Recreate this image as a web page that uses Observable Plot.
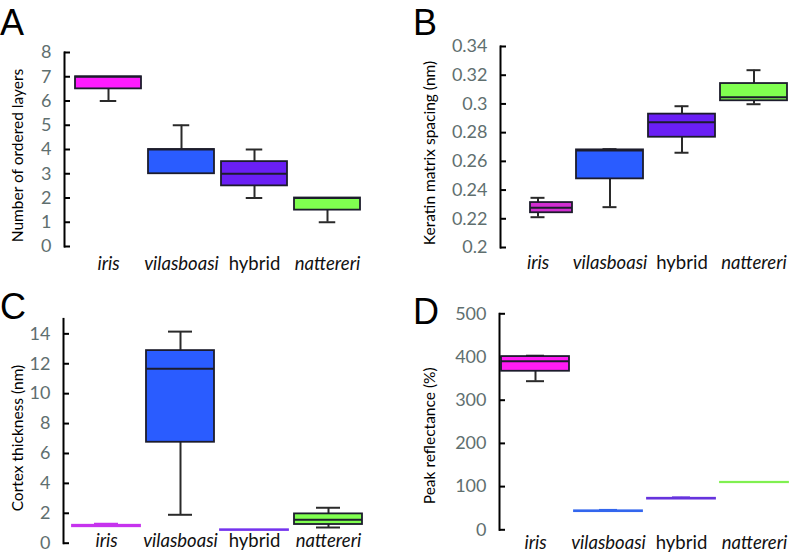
<!DOCTYPE html>
<html><head><meta charset="utf-8">
<script src="https://cdn.jsdelivr.net/npm/d3@7"></script>
<script src="https://cdn.jsdelivr.net/npm/@observablehq/plot@0.6"></script>
<style>
body{margin:0;background:#fff}
#fig{position:relative;width:796px;height:559px;overflow:hidden;font-family:Lato,"Open Sans",sans-serif}
.panel{position:absolute}
.letter{position:absolute;font-family:"Liberation Sans",Arial,sans-serif;line-height:1;color:#000}
</style></head>
<body><div id="fig"></div>
<script>
// ---- data ----
const categories = ["iris", "vilasboasi", "hybrid", "nattereri"];
const italicCategories = ["iris", "vilasboasi", "nattereri"];

// A: number of ordered layers
const layersLow  = [6, 3, 2, 1];
const layersQ1   = [6.5, 3, 2.5, 1.5];
const layersMed  = [7, 4, 3, 2];
const layersQ3   = [7, 4, 3.5, 2];
const layersHigh = [7, 5, 4, 2];
const layersTicks = [0, 1, 2, 3, 4, 5, 6, 7, 8];

// B: keratin matrix spacing (nm)
const spacingLow  = [0.2211, 0.2281, 0.2660, 0.2998];
const spacingQ1   = [0.2242, 0.2478, 0.2768, 0.3022];
const spacingMed  = [0.2277, 0.2675, 0.2873, 0.3047];
const spacingQ3   = [0.2313, 0.2680, 0.2929, 0.3142];
const spacingHigh = [0.2346, 0.2685, 0.2984, 0.3235];
const spacingTicks = [0.2, 0.22, 0.24, 0.26, 0.28, 0.3, 0.32, 0.34];

// C: cortex thickness (nm)
const cortexLow  = [1.1, 1.9, 0.85, 1.05];
const cortexQ1   = [1.1, 6.75, 0.85, 1.25];
const cortexMed  = [1.15, 11.66, 0.88, 1.56];
const cortexQ3   = [1.2, 12.88, 0.9, 1.96];
const cortexHigh = [1.3, 14.15, 0.9, 2.37];
const cortexTicks = [0, 2, 4, 6, 8, 10, 12, 14];

// D: peak reflectance (%)
const reflLow  = [344, 42, 71, 109];
const reflQ1   = [367, 42, 71, 109];
const reflMed  = [390, 43, 72, 110];
const reflQ3   = [401, 44, 73, 110];
const reflHigh = [403, 46, 75, 110];
const reflTicks = [0, 100, 200, 300, 400, 500];

// colours
const colorsA = ["#ff1cff", "#2a5cff", "#6a1ff5", "#80ff50"];
const colorsB = ["#d22ed2", "#2a5cff", "#6a1ff5", "#80ff50"];
const colorsC = ["#c633ee", "#2a5cff", "#7433ee", "#80ff50"];
const colorsD = ["#ff1cf4", "#3366ee", "#6633dd", "#80f050"];

const outline = "#1c1c2c";
const whiskerColor = "#2a2a2a";
const tickLabelColor = "#5f6f6f";

function panel(cfg) {
  const span = cfg.domain[1] - cfg.domain[0];
  const rows = categories.map((cat, i) => ({
    cat, low: cfg.low[i], q1: cfg.q1[i], med: cfg.med[i], q3: cfg.q3[i], high: cfg.high[i],
    color: cfg.colors[i], thin: (cfg.q3[i] - cfg.q1[i]) / span < 0.02
  }));
  const marks = [];
  marks.push(Plot.frame({anchor: "left", stroke: "#000", strokeWidth: 2}));
  marks.push(Plot.axisY({ticks: cfg.ticks, fill: "none", stroke: "#000", strokeWidth: 2, tickSize: 6, dx: 6}));
  marks.push(Plot.axisY({ticks: cfg.ticks, tickSize: 0, tickPadding: 13, fontSize: 18, fill: tickLabelColor, label: null, tickFormat: cfg.tickFormat}));
  marks.push(Plot.text([cfg.title], {text: d => d, frameAnchor: "left", textAnchor: "middle", rotate: -90, dx: cfg.titleDx, dy: cfg.titleDy, fontSize: 15.5, fill: "#000"}));
  rows.forEach((r, i) => {
    const ins = (cfg.boxInsets && cfg.boxInsets[i]) || [0, 0];
    const ws = r.thin ? r.color : whiskerColor;
    const bs = r.thin ? r.color : outline;
    const capIn = (cfg.bandwidth - cfg.capWidth) / 2;
    marks.push(Plot.ruleX([r], {x: "cat", y1: "q3", y2: "high", stroke: ws, strokeWidth: 2}));
    marks.push(Plot.ruleX([r], {x: "cat", y1: "q1", y2: "low", stroke: ws, strokeWidth: 2}));
    if (r.high > r.q3) marks.push(Plot.tickY([r], {x: "cat", y: "high", stroke: ws, strokeWidth: 2, insetLeft: capIn, insetRight: capIn}));
    if (r.low < r.q1) marks.push(Plot.tickY([r], {x: "cat", y: "low", stroke: ws, strokeWidth: 2, insetLeft: capIn, insetRight: capIn}));
    marks.push(Plot.barY([r], {x: "cat", y1: "q1", y2: "q3", fill: r.color, stroke: bs, strokeWidth: 1.8, insetLeft: ins[0], insetRight: ins[1]}));
    if (!r.thin) marks.push(Plot.tickY([r], {x: "cat", y: "med", stroke: outline, strokeWidth: 2, insetLeft: ins[0], insetRight: ins[1]}));
  });
  marks.push(Plot.text(categories.filter(c => italicCategories.includes(c)), {x: d => d, text: d => d, frameAnchor: "bottom", dy: cfg.labelDy, fontSize: 18.5, fontStyle: "italic", fill: "#111"}));
  marks.push(Plot.text(categories.filter(c => !italicCategories.includes(c)), {x: d => d, text: d => d, frameAnchor: "bottom", dy: cfg.labelDy, fontSize: 18.5, fill: "#111"}));
  const el = Plot.plot({
    width: cfg.width, height: cfg.height,
    marginLeft: cfg.marginLeft, marginTop: cfg.marginTop, marginBottom: cfg.marginBottom, marginRight: cfg.marginRight,
    style: {fontFamily: "Lato, 'Open Sans', sans-serif", background: "transparent", overflow: "visible"},
    x: {domain: categories, paddingInner: cfg.paddingInner, paddingOuter: 0, insetLeft: cfg.insetLeft, axis: null},
    y: {domain: cfg.domain, axis: null},
    marks
  });
  el.classList.add("panel");
  el.style.left = cfg.left + "px";
  el.style.top = cfg.top + "px";
  el.style.position = "absolute";
  return el;
}

const fig = document.getElementById("fig");
fig.appendChild(panel({
  left: 0, top: 0, width: 400, height: 280,
  marginLeft: 64, marginTop: 52, marginBottom: 34, marginRight: 39, insetLeft: 9, paddingInner: 0.1,
  bandwidth: 66.5, capWidth: 17,
  domain: [0, 8], ticks: layersTicks, tickFormat: d => String(d),
  low: layersLow, q1: layersQ1, med: layersMed, q3: layersQ3, high: layersHigh, colors: colorsA,
  title: "Number of ordered layers", titleDx: -46, titleDy: 6, labelDy: 23
}));
fig.appendChild(panel({
  left: 400, top: 0, width: 396, height: 280,
  marginLeft: 100, marginTop: 46, marginBottom: 33, marginRight: 9.5, insetLeft: 3.5, paddingInner: 0.07,
  bandwidth: 67, capWidth: 14,
  domain: [0.2, 0.34], ticks: spacingTicks, tickFormat: d => String(+d.toFixed(2)),
  low: spacingLow, q1: spacingQ1, med: spacingMed, q3: spacingQ3, high: spacingHigh, colors: colorsB,
  boxInsets: [[26, -1], null, null, null],
  title: "Keratin matrix spacing (nm)", titleDx: -70.5, titleDy: 6, labelDy: 21
}));
fig.appendChild(panel({
  left: 0, top: 280, width: 400, height: 279,
  marginLeft: 63, marginTop: 38.4, marginBottom: 16.3, marginRight: 38, insetLeft: 8, paddingInner: 0.085,
  bandwidth: 68, capWidth: 24,
  domain: [0, 15], ticks: cortexTicks, tickFormat: d => String(d),
  low: cortexLow, q1: cortexQ1, med: cortexMed, q3: cortexQ3, high: cortexHigh, colors: colorsC,
  title: "Cortex thickness (nm)", titleDx: -45.5, titleDy: 7, labelDy: 4
}));
fig.appendChild(panel({
  left: 400, top: 280, width: 396, height: 279,
  marginLeft: 99, marginTop: 33.3, marginBottom: 29.7, marginRight: 8, insetLeft: 1, paddingInner: 0.07,
  bandwidth: 68, capWidth: 18,
  domain: [0, 500], ticks: reflTicks, tickFormat: d => String(d),
  low: reflLow, q1: reflQ1, med: reflMed, q3: reflQ3, high: reflHigh, colors: colorsD,
  title: "Peak reflectance (%)", titleDx: -69, titleDy: 14, labelDy: 19
}));

[["A", 0, 4.5, 36], ["B", 413, 4.5, 36], ["C", 0, 288.5, 36], ["D", 413, 293.5, 36]].forEach(([t, x, y, s]) => {
  const d = document.createElement("div");
  d.className = "letter";
  d.textContent = t;
  d.style.left = x + "px"; d.style.top = y + "px"; d.style.fontSize = s + "px";
  fig.appendChild(d);
});
</script>
</body></html>
